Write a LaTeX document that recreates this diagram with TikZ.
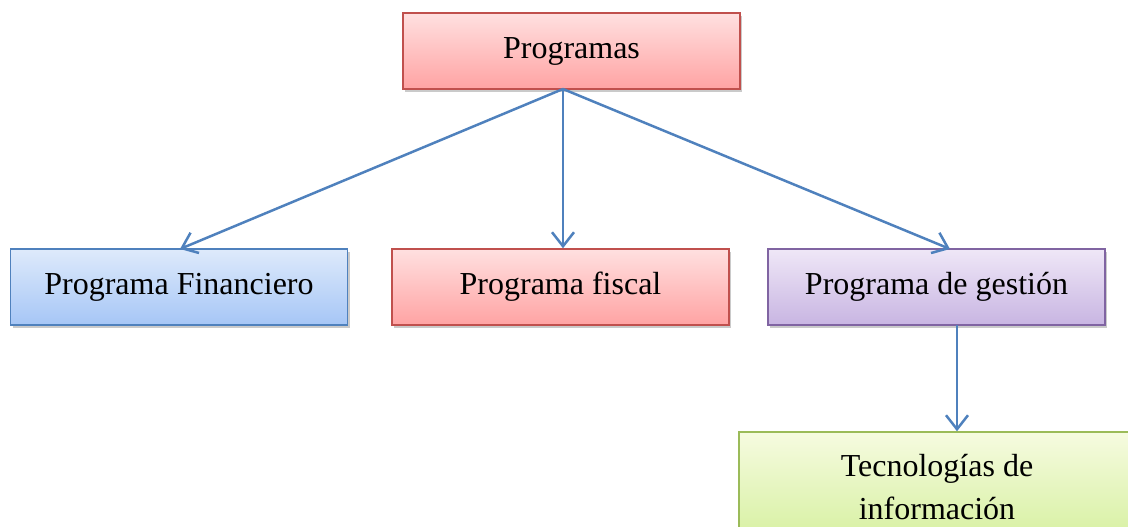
\documentclass[tikz,border=0pt]{standalone}
\usepackage{fontspec}
\setmainfont{Liberation Serif}
\usetikzlibrary{arrows.meta,shadows}
\definecolor{redB}{HTML}{C0504D}
\definecolor{redT}{HTML}{FFE0E0}
\definecolor{redD}{HTML}{FFA3A3}
\definecolor{bluB}{HTML}{4F81BD}
\definecolor{bluT}{HTML}{DEEAFB}
\definecolor{bluD}{HTML}{A6C6F6}
\definecolor{purB}{HTML}{8064A2}
\definecolor{purT}{HTML}{EFE7F7}
\definecolor{purD}{HTML}{C8B5E2}
\definecolor{grnB}{HTML}{9BBB59}
\definecolor{grnT}{HTML}{F6FBE0}
\definecolor{grnD}{HTML}{D6F0A0}
\definecolor{arr}{HTML}{4F81BD}
\tikzset{
  x=1pt,y=1pt,
  box/.style={draw,line width=1.5pt,minimum width=337pt,minimum height=76pt,
    inner sep=0pt,align=center,
    font=\fontsize{32}{43}\selectfont,
    drop shadow={shadow xshift=2pt,shadow yshift=-3pt,opacity=0.35,fill=black!60}},
  redbox/.style={box,draw=redB,top color=redT,bottom color=redD},
  blubox/.style={box,draw=bluB,top color=bluT,bottom color=bluD},
  purbox/.style={box,draw=purB,top color=purT,bottom color=purD},
  grnbox/.style={box,draw=grnB,top color=grnT,bottom color=grnD},
  conn/.style={draw=arr,line width=2.5pt,-{Straight Barb[length=14pt,width=22pt,line width=2.5pt]}}
}
\begin{document}
\begin{tikzpicture}
\useasboundingbox (0,0) rectangle (1128,-527);
\clip (0,0) rectangle (1128,-527);
\node[redbox] (prog) at (571.5,-51) {Programas};
\node[blubox] (fin) at (179,-287) {Programa Financiero};
\node[redbox] (fis) at (560.5,-287) {Programa fiscal};
\node[purbox] (ges) at (936.5,-287) {Programa de gestión};
\node[grnbox,minimum width=396pt,minimum height=110pt] (tec) at (937,-487) {Tecnologías de\\información};
\coordinate (o) at (563,-89);
\draw[conn] (o) -- (180,-249);
\draw[conn] (o) -- (fis.north -| o);
\draw[conn] (o) -- (950,-249);
\draw[conn] (957,-325) -- (tec.north -| 957,-325);
\end{tikzpicture}
\end{document}
